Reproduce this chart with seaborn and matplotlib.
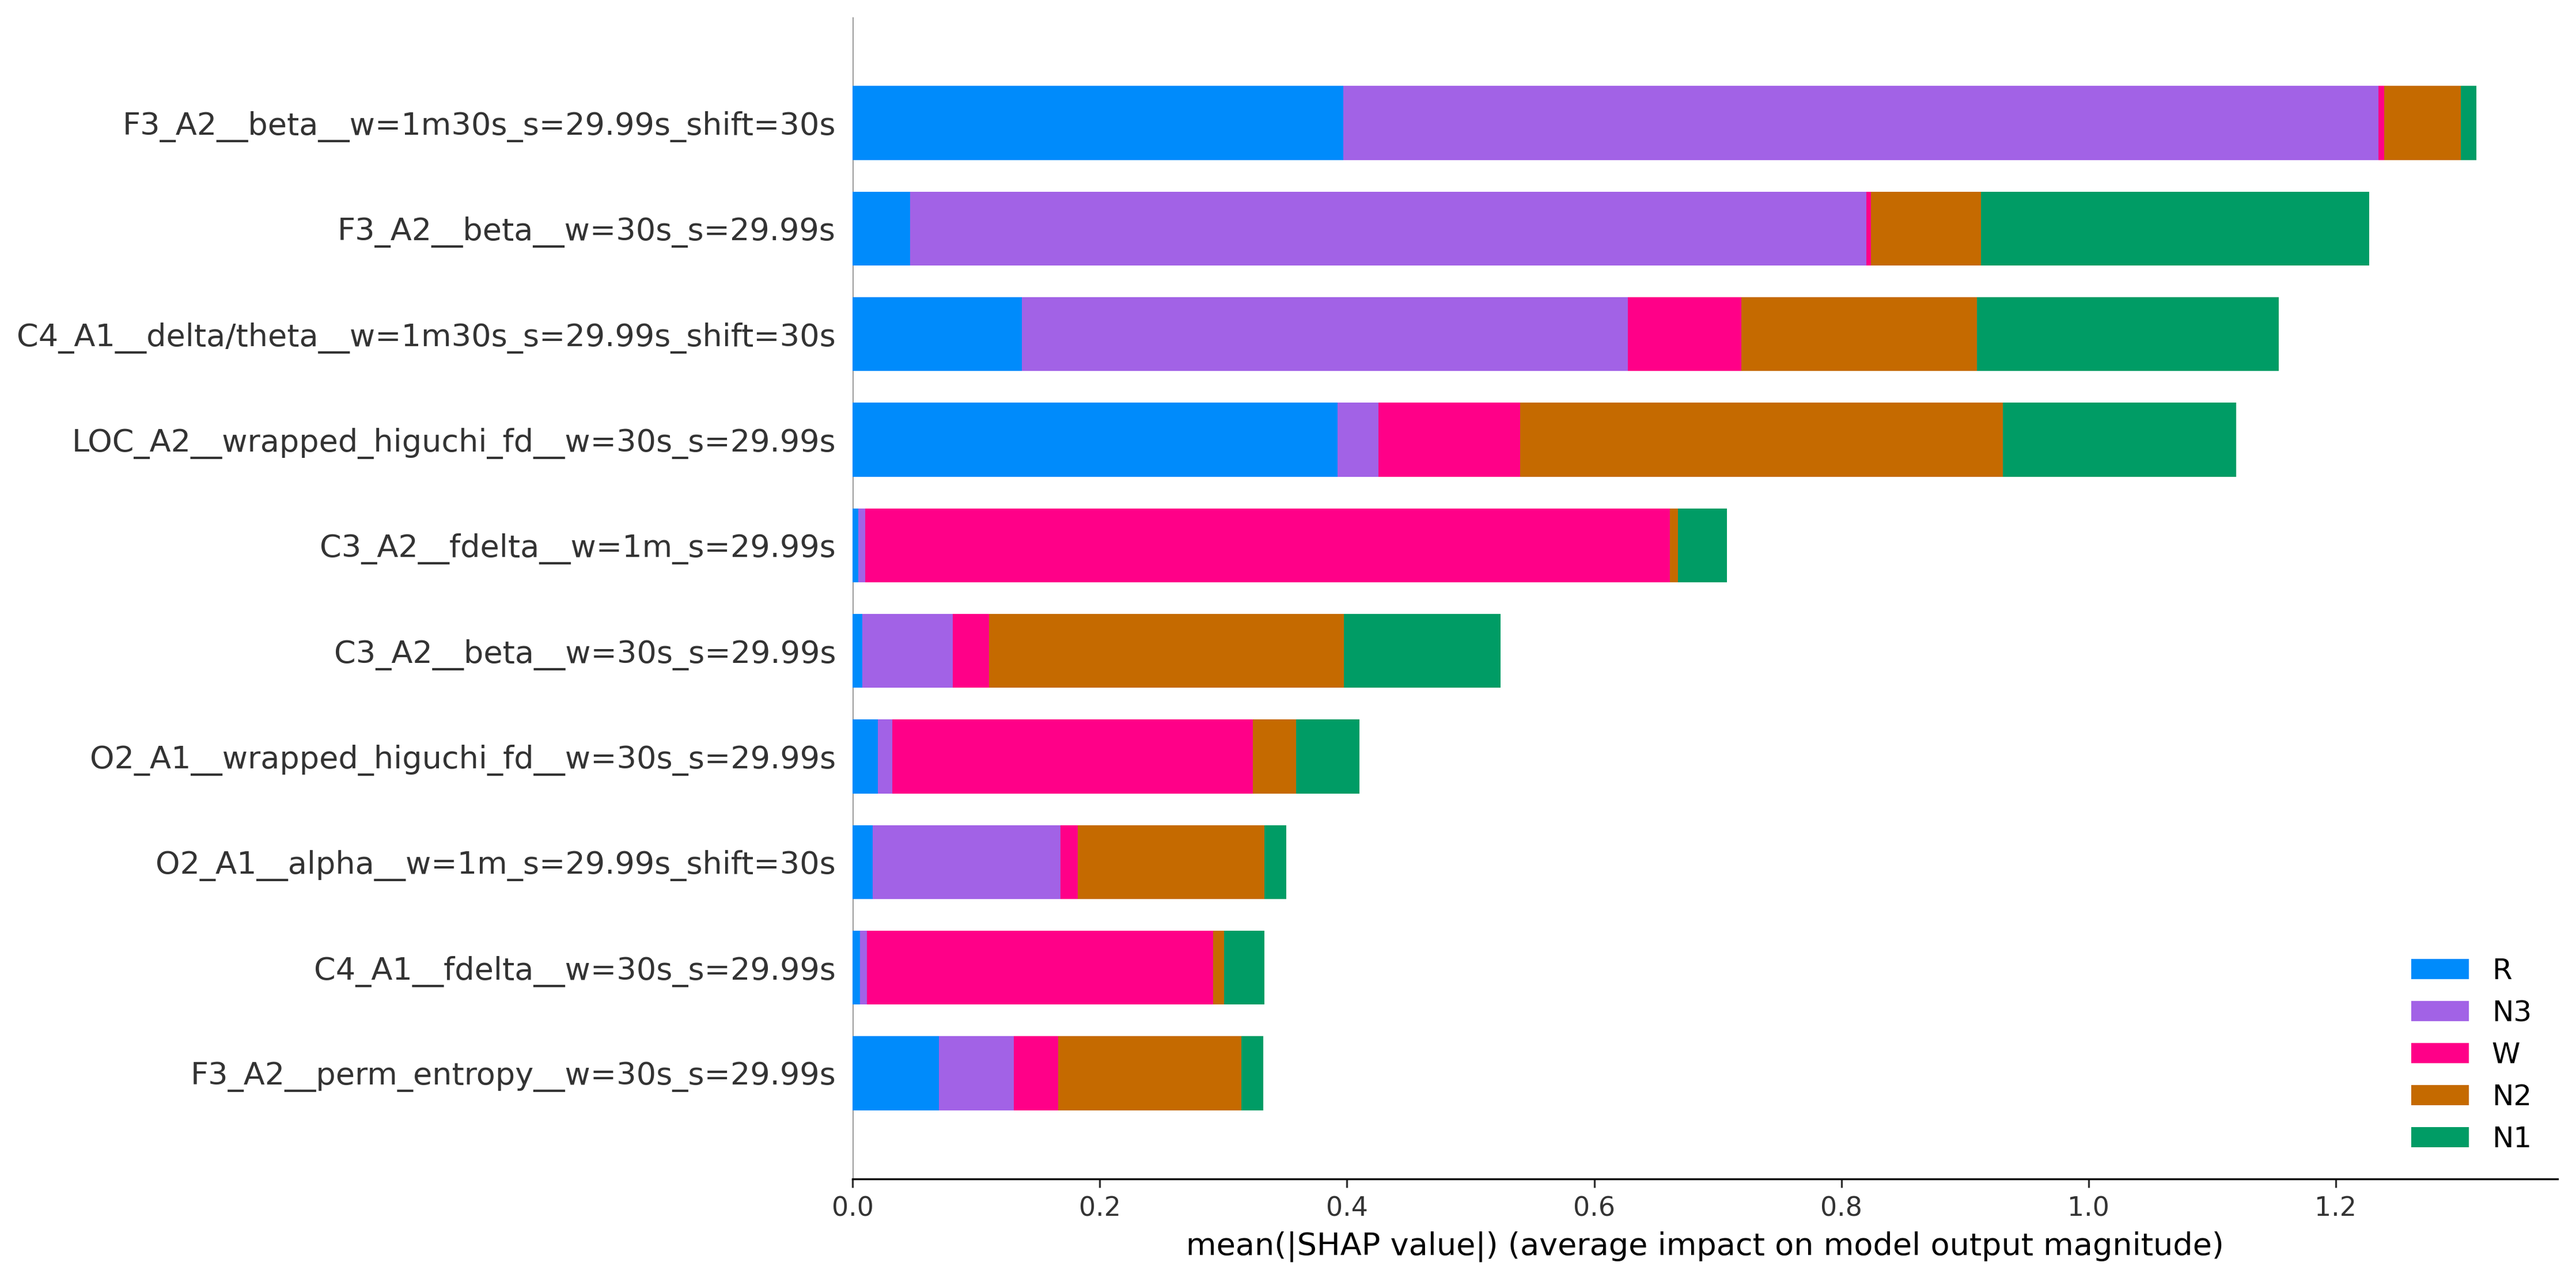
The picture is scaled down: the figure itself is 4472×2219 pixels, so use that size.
import numpy as np
import pandas as pd
import matplotlib
matplotlib.use("Agg")
import matplotlib.pyplot as plt
import seaborn as sns
from matplotlib.patches import Patch

features = [
    "F3_A2__beta__w=1m30s_s=29.99s_shift=30s",
    "F3_A2__beta__w=30s_s=29.99s",
    "C4_A1__delta/theta__w=1m30s_s=29.99s_shift=30s",
    "LOC_A2__wrapped_higuchi_fd__w=30s_s=29.99s",
    "C3_A2__fdelta__w=1m_s=29.99s",
    "C3_A2__beta__w=30s_s=29.99s",
    "O2_A1__wrapped_higuchi_fd__w=30s_s=29.99s",
    "O2_A1__alpha__w=1m_s=29.99s_shift=30s",
    "C4_A1__fdelta__w=30s_s=29.99s",
    "F3_A2__perm_entropy__w=30s_s=29.99s",
]
classes = ["R", "N3", "W", "N2", "N1"]
vals_R  = [0.397, 0.0466, 0.137, 0.3924, 0.0044, 0.0076, 0.0205, 0.0162, 0.0060, 0.0697]
vals_N3 = [0.8375, 0.7737, 0.490, 0.0328, 0.0059, 0.0733, 0.0117, 0.1518, 0.0054, 0.0609]
vals_W  = [0.0045, 0.0035, 0.092, 0.1148, 0.6511, 0.0294, 0.2918, 0.0140, 0.2801, 0.0358]
vals_N2 = [0.0620, 0.0892, 0.1905, 0.3906, 0.0064, 0.2871, 0.0350, 0.1512, 0.0091, 0.1481]
vals_N1 = [0.0127, 0.3140, 0.2445, 0.1888, 0.0395, 0.1266, 0.0510, 0.0178, 0.0326, 0.0175]
class_colors = ["#008BFB", "#A262E6", "#FF0088", "#C56A00", "#009C65"]

series = [vals_R, vals_N3, vals_W, vals_N2, vals_N1]
cum = np.cumsum(np.array(series), axis=0)

rows = []
for ci, cls in enumerate(classes):
    for fi, f in enumerate(features):
        rows.append({"feature": f, "cls": cls, "cum": cum[ci, fi]})
df = pd.DataFrame(rows)

sns.set_style("white")
plt.rcParams["font.family"] = ["DejaVu Sans"]

fig = plt.figure(figsize=(4472 / 300, 2219 / 300), dpi=300)
ax = fig.add_axes([0.331, 0.0775, 0.6618, 0.909])

hue_order = classes[::-1]
pal = dict(zip(classes, class_colors))
sns.barplot(data=df, x="cum", y="feature", hue="cls", hue_order=hue_order,
            order=features, palette=pal, dodge=False, width=0.7,
            saturation=1, errorbar=None, linewidth=0, legend=False, ax=ax)

ax.axvline(0, color="#999999", lw=0.7, zorder=-1)
ax.set_ylim(10, -1)
ax.set_xlim(0, cum[-1].max() * 1.05)

for s in ["right", "top", "left"]:
    ax.spines[s].set_visible(False)
ax.spines["bottom"].set_color("black")
ax.spines["bottom"].set_linewidth(0.8)
ax.xaxis.set_ticks_position("bottom")
ax.yaxis.set_ticks_position("none")
ax.tick_params(axis="x", which="major", length=3.5, width=0.8, color="#333333",
               labelcolor="#333333", labelsize=11, bottom=True)
ax.tick_params(axis="y", labelcolor="#333333", labelsize=13)
ax.set_ylabel("")
ax.set_xlabel("mean(|SHAP value|) (average impact on model output magnitude)",
              fontsize=13, color="black")

handles = [Patch(facecolor=c, edgecolor="none", label=l) for l, c in zip(classes, class_colors)]
ax.legend(handles=handles, loc="lower right", frameon=False, fontsize=12, labelcolor="black")

fig.savefig("out.png", dpi=300)
